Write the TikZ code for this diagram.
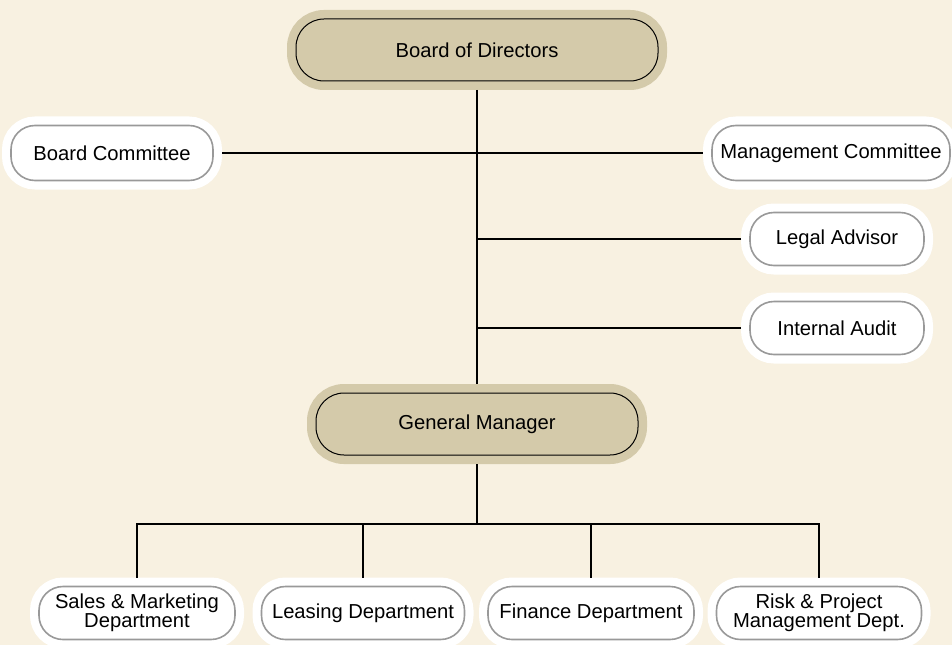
\documentclass[tikz,border=0pt]{standalone}
\usepackage{fontspec}
\setmainfont{Liberation Sans}
\usepackage{xcolor}
\definecolor{paper}{HTML}{F8F1E1}
\definecolor{khaki}{HTML}{D4CAAA}
\definecolor{rim}{HTML}{999999}
\newlength\unitpx
\setlength\unitpx{0.02cm}
\tikzset{
  halo/.style={preaction={draw=#1, line width=18\unitpx}},
  post/.style={draw, rounded corners=24\unitpx, align=center, inner sep=0pt,
    minimum height=55\unitpx, outer sep=9\unitpx,
    font=\fontsize{11.5}{10.6}\selectfont},
  headbox/.style={post, fill=khaki, line width=1\unitpx, halo=khaki,
    rounded corners=28\unitpx, minimum height=62\unitpx},
  unitbox/.style={post, fill=white, draw=rim, line width=1.6\unitpx, halo=white},
  link/.style={line width=2\unitpx}
}

\begin{document}
\begin{tikzpicture}[x=0.02cm, y=-0.02cm]
   % page and backdrop
   \useasboundingbox (0,0) rectangle (952,645);
   \fill[paper] (0,0) rectangle (952,645);

   % top of the chart
   \node[headbox, minimum width=362\unitpx] (board) at (477,50) {Board of Directors};
   \node[unitbox, minimum width=202\unitpx] (bcomm) at (112,153) {Board Committee};
   \node[unitbox, minimum width=238\unitpx] (mcomm) at (831,153) {Management Committee};
   \node[unitbox, minimum width=174\unitpx, minimum height=53\unitpx] (legal) at (837,239) {Legal Advisor};
   \node[unitbox, minimum width=174\unitpx, minimum height=53\unitpx] (audit) at (837,328) {Internal Audit};
   \node[headbox, minimum width=322\unitpx] (gm) at (477,424) {General Manager};

    % departments
   \node[unitbox, minimum width=196\unitpx, minimum height=53\unitpx] (sales) at (137,613) {Sales \& Marketing\\Department};
   \node[unitbox, minimum width=203\unitpx, minimum height=53\unitpx] (leasing) at (363,613) {Leasing Department};
   \node[unitbox, minimum width=206\unitpx, minimum height=53\unitpx] (finance) at (591,613) {Finance Department};
   \node[unitbox, minimum width=205\unitpx, minimum height=53\unitpx] (risk) at (819,613) {Risk \& Project\\Management Dept.};

   \coordinate (bus) at (477,524);

   % connectors
   \draw[link] (board) -- (gm);
   \draw[link] (bcomm) -- (mcomm);
   \draw[link] (legal.west) -- (legal.west -| board);
   \draw[link] (audit.west) -- (audit.west -| board);
   \draw[link] (gm) -- (bus);
   \draw[link] (sales) |- (bus) -| (risk);
   \draw[link] (leasing) -- (leasing |- bus);
   \draw[link] (finance) -- (finance |- bus);
\end{tikzpicture}
\end{document}
